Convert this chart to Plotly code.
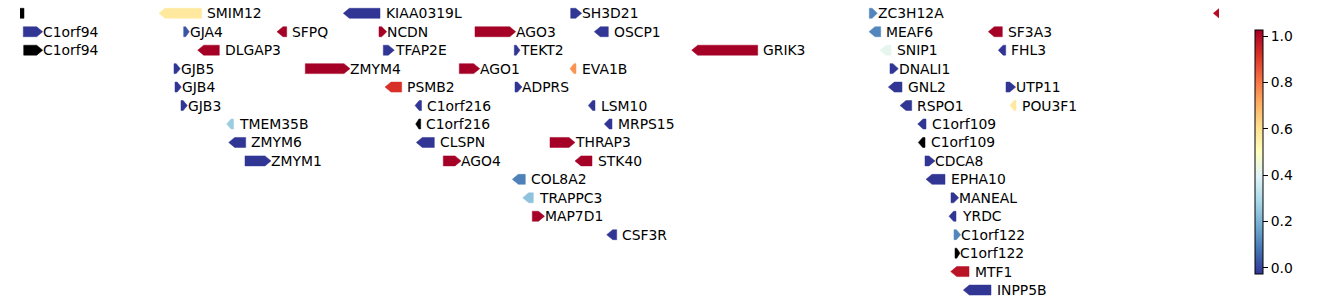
import plotly.graph_objects as go
from plotly.colors import sample_colorscale

# ---------------- data (x in track units, row = stacking lane) ----------------
names = ["", "SMIM12", "KIAA0319L", "SH3D21", "ZC3H12A", "",
         "C1orf94", "GJA4", "SFPQ", "NCDN", "AGO3", "OSCP1", "MEAF6", "SF3A3",
         "C1orf94", "DLGAP3", "TFAP2E", "TEKT2", "GRIK3", "SNIP1", "FHL3",
         "GJB5", "ZMYM4", "AGO1", "EVA1B", "DNALI1",
         "GJB4", "PSMB2", "ADPRS", "GNL2", "UTP11",
         "GJB3", "C1orf216", "LSM10", "RSPO1", "POU3F1",
         "TMEM35B", "C1orf216", "MRPS15", "C1orf109",
         "ZMYM6", "CLSPN", "THRAP3", "C1orf109",
         "ZMYM1", "AGO4", "STK40", "CDCA8",
         "COL8A2", "EPHA10",
         "TRAPPC3", "MANEAL",
         "MAP7D1", "YRDC",
         "CSF3R", "C1orf122",
         "C1orf122",
         "MTF1",
         "INPP5B"]
rows = [0, 0, 0, 0, 0, 0,
        1, 1, 1, 1, 1, 1, 1, 1,
        2, 2, 2, 2, 2, 2, 2,
        3, 3, 3, 3, 3,
        4, 4, 4, 4, 4,
        5, 5, 5, 5, 5,
        6, 6, 6, 6,
        7, 7, 7, 7,
        8, 8, 8, 8,
        9, 9,
        10, 10,
        11, 11,
        12, 12,
        13,
        14,
        15]
starts = [8, 159.0, 343.3, 570.7, 869.3, 1213.3,
          23.3, 183.7, 277.0, 379.0, 475.0, 594.3, 869.0, 988.3,
          23.7, 197.7, 383.3, 514.3, 691.7, 880.0, 998.3,
          174.0, 305.3, 459.3, 570.0, 890.0,
          175.0, 385.0, 515.0, 888.3, 1006.0,
          181.0, 415.0, 588.3, 900.0, 1010.0,
          226.7, 415.7, 604.3, 917.7,
          228.7, 416.3, 550.0, 918.3,
          245.0, 443.3, 575.0, 925.0,
          512.3, 926.0,
          522.7, 951.0,
          532.3, 949.0,
          606.7, 954.0,
          955.0,
          950.7,
          963.3]
ends = [24.0, 201.7, 380.0, 581.7, 877.3, 1240.0,
        42.7, 189.3, 286.7, 386.7, 515.7, 608.3, 880.7, 1002.3,
        42.7, 219.3, 394.3, 520.0, 757.7, 891.0, 1005.7,
        180.3, 350.0, 479.7, 576.0, 898.3,
        181.3, 401.7, 522.0, 902.0, 1015.7,
        187.3, 421.5, 595.0, 911.7, 1016.0,
        233.5, 420.7, 612.0, 926.0,
        245.7, 434.3, 575.0, 925.0,
        271.0, 461.0, 592.0, 935.0,
        525.3, 945.0,
        533.3, 958.7,
        544.5, 956.0,
        616.7, 960.7,
        960.0,
        969.0,
        991.0]
strands = [-1, -1, -1, 1, 1, -1,
           1, 1, -1, 1, 1, -1, -1, -1,
           1, -1, 1, 1, -1, -1, -1,
           1, 1, 1, -1, 1,
           1, -1, 1, -1, 1,
           1, -1, -1, -1, -1,
           -1, -1, -1, -1,
           -1, -1, 1, -1,
           1, 1, -1, 1,
           -1, -1,
           -1, 1,
           1, -1,
           -1, 1,
           1,
           -1,
           -1]
# None = no score (drawn black)
scores = [None, 0.57, 0.0, 0.0, 0.13, 0.97,
          0.0, 0.05, 1.0, 1.0, 1.0, 0.0, 0.13, 1.0,
          None, 1.0, 0.0, 0.0, 1.0, 0.42, 0.0,
          0.0, 1.0, 1.0, 0.74, 0.0,
          0.0, 0.9, 0.0, 0.0, 0.0,
          0.0, 0.0, 0.0, 0.0, 0.57,
          0.27, None, 0.0, 0.0,
          0.0, 0.0, 1.0, None,
          0.0, 1.0, 1.0, 0.0,
          0.12, 0.0,
          0.25, 0.0,
          1.0, 0.0,
          0.0, 0.13,
          None,
          0.96,
          0.0]
cbar_ticks = [0.0, 0.2, 0.4, 0.6, 0.8, 1.0]
cbar_ticktext = ["0.0", "0.2", "0.4", "0.6", "0.8", "1.0"]

# ---------------- style ----------------
CMIN, CMAX = -0.026, 1.026
CSCALE = "RdYlBu_r"
FONT = dict(family="DejaVu Sans", size=13.9, color="black")
HALF_H = 0.27      # half arrow height in row units
HEAD = 6.0         # arrow head length in x units
LBL_FWD, LBL_REV = 0.3, 5.5

def color_of(v):
    if v is None:
        return "black"
    t = min(max(v, 0.0), 1.0)
    return sample_colorscale(CSCALE, [t])[0]

fig = go.Figure()
for nm, r, s, e, st, v in zip(names, rows, starts, ends, strands, scores):
    hl = min(HEAD, 0.65 * (e - s))
    if st > 0:
        xs = [s, e - hl, e, e - hl, s, s]
        ys = [r - HALF_H, r - HALF_H, r, r + HALF_H, r + HALF_H, r - HALF_H]
    else:
        xs = [e, s + hl, s, s + hl, e, e]
        ys = [r - HALF_H, r - HALF_H, r, r + HALF_H, r + HALF_H, r - HALF_H]
    c = color_of(v)
    fig.add_trace(go.Scatter(x=xs, y=ys, mode="lines", fill="toself",
                             fillcolor=c, line=dict(color=c, width=0.5),
                             hoverinfo="text", text=nm, showlegend=False))
    if nm:
        fig.add_annotation(x=e + (LBL_FWD if st > 0 else LBL_REV), y=r,
                           text=nm, showarrow=False, xanchor="left",
                           yanchor="middle", font=FONT, borderpad=0,
                           borderwidth=0)

# colorbar carrier
cx = [(s + e) / 2 for s, e, v in zip(starts, ends, scores) if v is not None]
cy = [r for r, v in zip(rows, scores) if v is not None]
cv = [v for v in scores if v is not None]
fig.add_trace(go.Scatter(
    x=cx, y=cy, mode="markers", hoverinfo="skip", showlegend=False,
    marker=dict(size=1, opacity=0, color=cv, colorscale=CSCALE,
                cmin=CMIN, cmax=CMAX, showscale=True,
                colorbar=dict(
                    xref="container", yref="container",
                    x=1255 / 1338, xanchor="left", xpad=0,
                    y=1 - 30 / 305, yanchor="top", ypad=0,
                    lenmode="pixels", len=244,
                    thicknessmode="pixels", thickness=8,
                    outlinewidth=1, outlinecolor="black",
                    ticks="outside", ticklen=5, tickwidth=1,
                    tickcolor="black",
                    tickvals=cbar_ticks, ticktext=cbar_ticktext,
                    tickfont=FONT)),
))

fig.update_layout(
    width=1338, height=305, autosize=False,
    margin=dict(l=20, r=119, t=0, b=0, pad=0),
    paper_bgcolor="white", plot_bgcolor="white",
    xaxis=dict(range=[20, 1219], visible=False, fixedrange=True),
    yaxis=dict(range=[15.81, -0.72], visible=False, fixedrange=True),
    font=FONT,
)
fig.write_html("out.html")
